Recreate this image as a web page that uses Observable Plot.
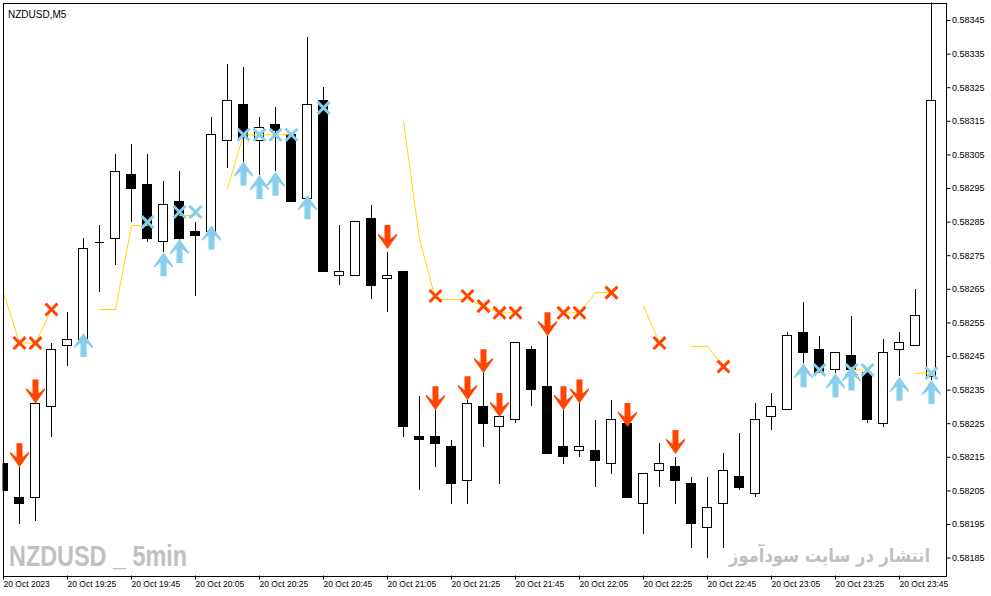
<!DOCTYPE html>
<html>
<head>
<meta charset="utf-8">
<script src="https://cdn.jsdelivr.net/npm/d3@7"></script>
<script src="https://cdn.jsdelivr.net/npm/@observablehq/plot@0.6"></script>
<style>
  html, body { margin: 0; padding: 0; background: #fff; }
  #chart { width: 991px; height: 596px; }
</style>
</head>
<body>
<div id="chart"></div>
<script>
// NZDUSD M5, 20 Oct 2023 19:05 .. 23:55 (one entry per bar)
const open = [
  0.58213, 0.58203, 0.58203, 0.58230, 0.58248, 0.58250, 0.58279, 0.58280, 0.58299, 0.58296,
  0.58279, 0.58291, 0.58282, 0.58282, 0.58309, 0.58320, 0.58309, 0.58314, 0.58311, 0.58292,
  0.58321, 0.58269, 0.58269, 0.58286, 0.58268, 0.58270, 0.58221, 0.58221, 0.58218, 0.58208,
  0.58230, 0.58224, 0.58226, 0.58247, 0.58236, 0.58218, 0.58217, 0.58217, 0.58213, 0.58225,
  0.58201, 0.58211, 0.58212, 0.58207, 0.58194, 0.58201, 0.58209, 0.58204, 0.58227, 0.58229,
  0.58252, 0.58247, 0.58241, 0.58245, 0.58240, 0.58225, 0.58247, 0.58248, 0.58239
]
const high = [
  0.58218, 0.58212, 0.58231, 0.58249, 0.58258, 0.58280, 0.58284, 0.58305, 0.58308, 0.58305,
  0.58297, 0.58300, 0.58285, 0.58316, 0.58332, 0.58331, 0.58316, 0.58319, 0.58311, 0.58340,
  0.58325, 0.58284, 0.58285, 0.58290, 0.58276, 0.58270, 0.58233, 0.58229, 0.58220, 0.58232,
  0.58240, 0.58228, 0.58249, 0.58248, 0.58251, 0.58229, 0.58231, 0.58226, 0.58232, 0.58225,
  0.58210, 0.58219, 0.58215, 0.58209, 0.58209, 0.58216, 0.58222, 0.58231, 0.58234, 0.58252,
  0.58261, 0.58251, 0.58246, 0.58257, 0.58240, 0.58250, 0.58252, 0.58265, 0.58360
]
const low = [
  0.58192, 0.58195, 0.58196, 0.58221, 0.58242, 0.58248, 0.58264, 0.58272, 0.58285, 0.58279,
  0.58276, 0.58278, 0.58263, 0.58281, 0.58301, 0.58302, 0.58299, 0.58300, 0.58291, 0.58291,
  0.58270, 0.58266, 0.58269, 0.58262, 0.58258, 0.58221, 0.58205, 0.58212, 0.58201, 0.58201,
  0.58218, 0.58207, 0.58225, 0.58230, 0.58216, 0.58213, 0.58215, 0.58206, 0.58210, 0.58203,
  0.58192, 0.58206, 0.58201, 0.58188, 0.58185, 0.58188, 0.58205, 0.58203, 0.58223, 0.58229,
  0.58243, 0.58240, 0.58240, 0.58240, 0.58225, 0.58224, 0.58239, 0.58248, 0.58238
]
const close = [
  0.58205, 0.58201, 0.58231, 0.58247, 0.58250, 0.58277, 0.58279, 0.58300, 0.58295, 0.58280,
  0.58290, 0.58280, 0.58281, 0.58311, 0.58321, 0.58310, 0.58313, 0.58312, 0.58291, 0.58320,
  0.58270, 0.58270, 0.58285, 0.58266, 0.58269, 0.58224, 0.58220, 0.58219, 0.58207, 0.58231,
  0.58225, 0.58227, 0.58249, 0.58235, 0.58216, 0.58215, 0.58218, 0.58214, 0.58226, 0.58203,
  0.58210, 0.58213, 0.58208, 0.58195, 0.58200, 0.58211, 0.58206, 0.58226, 0.58230, 0.58251,
  0.58246, 0.58240, 0.58246, 0.58241, 0.58226, 0.58246, 0.58249, 0.58257, 0.58321
]

// yellow indicator line, null = empty bar
const signalLine = [
  0.58264, 0.58249, 0.58249, 0.58259, null, null, 0.58259, 0.58259, 0.58284, 0.58284,
  null, 0.58287, 0.58287, null, 0.58295, 0.58311, 0.58311, 0.58311, 0.58311, null,
  null, null, null, null, null, 0.58315, 0.58280, 0.58262, 0.58262, 0.58262,
  0.58260, 0.58258, 0.58258, null, null, 0.58258, 0.58258, 0.58264, 0.58264, null,
  0.58260, 0.58249, null, 0.58248, 0.58248, 0.58242, null, null, null, null,
  null, null, null, 0.58241, 0.58241, null, null, 0.58240, 0.58240
]

const sellArrowBars = [1, 2, 24, 27, 29, 30, 31, 34, 35, 36, 39, 42]
const sellArrowPrice = [0.58212, 0.58231, 0.58277, 0.58229, 0.58232, 0.58240, 0.58227, 0.58251, 0.58229, 0.58231, 0.58224, 0.58216]
const buyArrowBars = [5, 10, 11, 13, 15, 16, 17, 19, 50, 52, 53, 56, 58]
const buyArrowPrice = [0.58252, 0.58276, 0.58280, 0.58284, 0.58303, 0.58299, 0.58300, 0.58293, 0.58243, 0.58240, 0.58242, 0.58239, 0.58238]

const redCrossBars = [1, 2, 3, 27, 29, 30, 31, 32, 35, 36, 38, 41, 45]
const redCrossPrice = [0.58249, 0.58249, 0.58259, 0.58263, 0.58263, 0.58260, 0.58258, 0.58258, 0.58258, 0.58258, 0.58264, 0.58249, 0.58242]
const blueCrossBars = [9, 11, 12, 15, 16, 17, 18, 20, 51, 53, 54, 58]
const blueCrossPrice = [0.58285, 0.58288, 0.58288, 0.58311, 0.58311, 0.58311, 0.58311, 0.58319, 0.58241, 0.58241, 0.58241, 0.58240]

const priceTicks = [
  0.58185, 0.58195, 0.58205, 0.58215, 0.58225, 0.58235, 0.58245, 0.58255, 0.58265,
  0.58275, 0.58285, 0.58295, 0.58305, 0.58315, 0.58325, 0.58335, 0.58345
]
const timeTickBars = [0, 4, 8, 12, 16, 20, 24, 28, 32, 36, 40, 44, 48, 52, 56]
const timeTickLabels = [
  "20 Oct 2023", "20 Oct 19:25", "20 Oct 19:45", "20 Oct 20:05", "20 Oct 20:25",
  "20 Oct 20:45", "20 Oct 21:05", "20 Oct 21:25", "20 Oct 21:45", "20 Oct 22:05",
  "20 Oct 22:25", "20 Oct 22:45", "20 Oct 23:05", "20 Oct 23:25", "20 Oct 23:45"
]

const candles = open.map((o, i) => ({i, open: o, high: high[i], low: low[i], close: close[i]}))
const signal = signalLine.map((v, i) => ({i, v: v ?? NaN}))
const pts = (bars, price) => bars.map((b, j) => ({i: b, p: price[j]}))

// wingdings-like thick arrow, tip at the origin
function arrow(shape) {
  return {
    draw(context, size) {
      const k = Math.sqrt(size / Math.PI) / 10
      shape.forEach(([x, y], j) => j ? context.lineTo(x * k, y * k) : context.moveTo(x * k, y * k))
      context.closePath()
    }
  }
}
const downShape = [[0, 0], [9.5, -13.5], [9.5, -15.5], [3, -10], [3, -24], [-3, -24], [-3, -10], [-9.5, -15.5], [-9.5, -13.5]]
const arrowDown = arrow(downShape)
const arrowUp = arrow(downShape.map(([x, y]) => [x, -y]))

const half = 0.28125
const crisp = {shapeRendering: "crispEdges", clip: true}
const watermark = "NZDUSD _ 5min"
const siteNote = "انتشار در سایت سودآموز"

let chart = Plot.plot({
  width: 991,
  height: 596,
  marginLeft: 2.5,
  marginRight: 45.5,
  marginTop: 2.5,
  marginBottom: 20.5,
  x: {type: "linear", domain: [-0.03125, 58.90625]},
  y: {domain: [0.5817967, 0.5835021]},
  marks: [
    Plot.ruleX(candles, {x: "i", y1: "low", y2: "high", stroke: "black", ...crisp}),
    Plot.rect(candles.filter(d => d.close >= d.open), {
      x1: d => d.i - half, x2: d => d.i + half, y1: "open", y2: "close",
      fill: "white", stroke: "black", ...crisp
    }),
    Plot.rect(candles.filter(d => d.close < d.open), {
      x1: d => d.i - half, x2: d => d.i + half, y1: "open", y2: "close",
      fill: "black", stroke: "black", ...crisp
    }),
    Plot.ruleY(candles.filter(d => d.close === d.open), {
      y: "open", x1: d => d.i - half, x2: d => d.i + half, stroke: "black", ...crisp
    }),
    Plot.line(signal, {x: "i", y: "v", stroke: "#FFD700", strokeWidth: 1, clip: true}),
    Plot.dot(pts(redCrossBars, redCrossPrice), {
      x: "i", y: "p", symbol: "times", r: 5.5, stroke: "#FF4500", strokeWidth: 3
    }),
    Plot.dot(pts(blueCrossBars, blueCrossPrice), {
      x: "i", y: "p", symbol: "times", r: 5.5, stroke: "#87CEEB", strokeWidth: 3
    }),
    Plot.dot(pts(sellArrowBars, sellArrowPrice), {
      x: "i", y: "p", symbol: arrowDown, r: 10, fill: "#FF4500", stroke: "none"
    }),
    Plot.dot(pts(buyArrowBars, buyArrowPrice), {
      x: "i", y: "p", symbol: arrowUp, r: 10, fill: "#87CEEB", stroke: "none"
    }),
    Plot.text(["NZDUSD,M5"], {
      frameAnchor: "top-left", dx: 5, dy: 8, textAnchor: "start",
      fontSize: 10, fill: "black"
    }),
    Plot.text([watermark], {
      frameAnchor: "bottom-left", dx: 6, dy: -10.5, textAnchor: "start", lineAnchor: "bottom",
      fontSize: 30, fontWeight: "bold", fontFamily: "Liberation Sans", fill: "#c0c0c0"
    }),
    Plot.text([siteNote], {
      frameAnchor: "bottom-right", dx: -16, dy: -14, textAnchor: "end", lineAnchor: "bottom",
      fontSize: 19, fontWeight: "bold", fontFamily: "DejaVu Sans", fill: "#c0c0c0"
    }),
    Plot.axisY({
      ticks: priceTicks, anchor: "right", tickSize: 4, tickPadding: 2,
      tickFormat: d3.format(".5f"), fontSize: 9, label: null
    }),
    Plot.axisX({
      ticks: timeTickBars, anchor: "bottom", tickSize: 4, tickPadding: 1,
      tickFormat: i => timeTickLabels[timeTickBars.indexOf(i)],
      textAnchor: "start", dx: 0, fontSize: 8.5, label: null
    }),
    Plot.frame({stroke: "black", shapeRendering: "crispEdges"})
  ],
  style: {
    background: "#ffffff",
    color: "black",
    fontFamily: "Liberation Sans",
    fontSize: "9px"
  }
})

// squeeze the two watermarks horizontally
function stretch(label, sx) {
  d3.select(chart).selectAll("text")
    .filter(function () { return this.textContent === label })
    .each(function () {
      const t = this.getAttribute("transform") || ""
      this.setAttribute("transform", `${t} scale(${sx},1)`)
    })
}
stretch(watermark, 0.78)
stretch(siteNote, 0.86)

d3.select('#chart').append(() => chart)
</script>
</body>
</html>
